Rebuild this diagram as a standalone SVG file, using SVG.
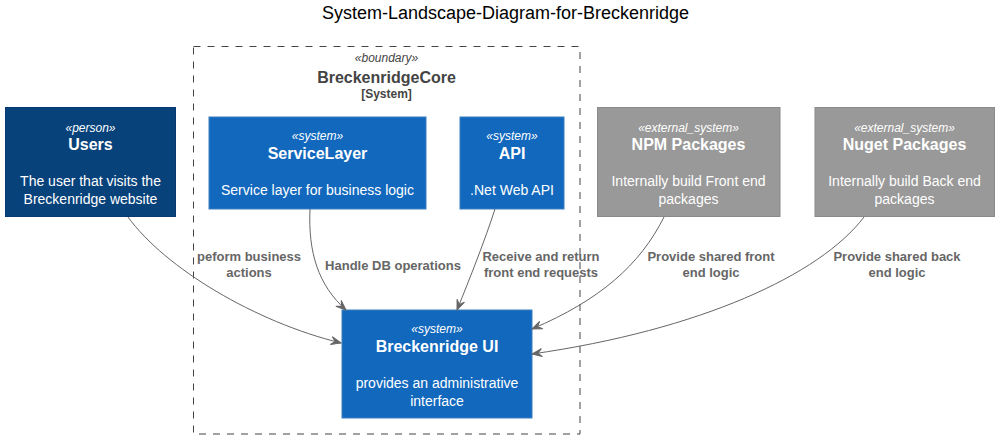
<svg xmlns="http://www.w3.org/2000/svg" width="1003" height="444" viewBox="0 0 1003 444">
<style>
text{font-family:"Liberation Sans",Arial,sans-serif;}
.st{font-size:12px;font-style:italic;fill:#FFFFFF;text-anchor:middle;}
.nm{font-size:16px;font-weight:bold;fill:#FFFFFF;text-anchor:middle;}
.ds{font-size:14px;fill:#FFFFFF;text-anchor:middle;}
.sys{fill:#1168BD;stroke:#3C7FC0;stroke-width:1;}
.per{fill:#08427B;stroke:#073B6F;stroke-width:1;}
.ext{fill:#999999;stroke:#8A8A8A;stroke-width:1;}
.ln{fill:none;stroke:#666666;stroke-width:1;marker-end:url(#arr);}
.lb{font-size:13px;font-weight:bold;fill:#666666;text-anchor:middle;}
</style>
<defs>
<marker id="arr" viewBox="-11 -6 12 12" refX="0" refY="0" markerWidth="12" markerHeight="12" markerUnits="userSpaceOnUse" orient="auto">
<path d="M0,0 L-10,-4 L-6,0 L-10,4 Z" fill="#666666" stroke="#666666" stroke-width="1"/>
</marker>
</defs>
<rect width="1003" height="444" fill="#FFFFFF"/>
<text x="505.5" y="19" style="font-size:18px;text-anchor:middle;fill:#000000">System-Landscape-Diagram-for-Breckenridge</text>

<g id="boundary-BreckenridgeCore">
<rect x="193.5" y="46.5" width="386.5" height="387.5" fill="none" stroke="#444444" stroke-width="1" stroke-dasharray="7,7"/>
<text x="386.5" y="62" style="font-size:12px;font-style:italic;fill:#444444;text-anchor:middle">«boundary»</text>
<text x="386.5" y="83" style="font-size:16px;font-weight:bold;fill:#444444;text-anchor:middle">BreckenridgeCore</text>
<text x="386.5" y="98" style="font-size:12px;font-weight:bold;fill:#444444;text-anchor:middle">[System]</text>
</g>

<g id="node-Users">
<rect class="per" x="5.5" y="107.5" width="170" height="109"/>
<text class="st" x="90.5" y="132">«person»</text>
<text class="nm" x="90.5" y="150">Users</text>
<text class="ds" x="90.5" y="186">The user that visits the</text>
<text class="ds" x="90.5" y="204">Breckenridge website</text>
</g>

<g id="node-ServiceLayer">
<rect class="sys" x="209" y="117" width="217" height="92"/>
<text class="st" x="317.5" y="140">«system»</text>
<text class="nm" x="317.5" y="159">ServiceLayer</text>
<text class="ds" x="317.5" y="195">Service layer for business logic</text>
</g>

<g id="node-API">
<rect class="sys" x="460" y="117" width="104" height="92"/>
<text class="st" x="512" y="140">«system»</text>
<text class="nm" x="512" y="159">API</text>
<text class="ds" x="512" y="195">.Net Web API</text>
</g>

<g id="node-NPM">
<rect class="ext" x="597.5" y="107.5" width="182.5" height="109"/>
<text class="st" x="688.5" y="132">«external_system»</text>
<text class="nm" x="688.5" y="150">NPM Packages</text>
<text class="ds" x="688.5" y="186">Internally build Front end</text>
<text class="ds" x="688.5" y="204">packages</text>
</g>

<g id="node-Nuget">
<rect class="ext" x="815" y="107.5" width="179.5" height="109"/>
<text class="st" x="904.5" y="132">«external_system»</text>
<text class="nm" x="904.5" y="150">Nuget Packages</text>
<text class="ds" x="904.5" y="186">Internally build Back end</text>
<text class="ds" x="904.5" y="204">packages</text>
</g>

<g id="node-BreckenridgeUI">
<rect class="sys" x="342" y="310" width="190" height="108"/>
<text class="st" x="437" y="333">«system»</text>
<text class="nm" x="437" y="352">Breckenridge UI</text>
<text class="ds" x="437" y="388">provides an administrative</text>
<text class="ds" x="437" y="406">interface</text>
</g>

<g id="connectors">
<path class="ln" d="M128,217 C165,268 255,322 341,343"/>
<text class="lb" x="249" y="261">peform business</text>
<text class="lb" x="249" y="277">actions</text>

<path class="ln" d="M310,209 C308,252 318,285 346,310"/>
<text class="lb" x="393" y="270">Handle DB operations</text>

<path class="ln" d="M495,209 C485,240 470,278 457,310"/>
<text class="lb" x="541" y="261">Receive and return</text>
<text class="lb" x="541" y="277">front end requests</text>

<path class="ln" d="M664,217 C640,265 600,300 532,329"/>
<text class="lb" x="711" y="261">Provide shared front</text>
<text class="lb" x="711" y="277">end logic</text>

<path class="ln" d="M864,217 C820,275 700,330 532,354"/>
<text class="lb" x="897" y="261">Provide shared back</text>
<text class="lb" x="897" y="277">end logic</text>
</g>
</svg>
